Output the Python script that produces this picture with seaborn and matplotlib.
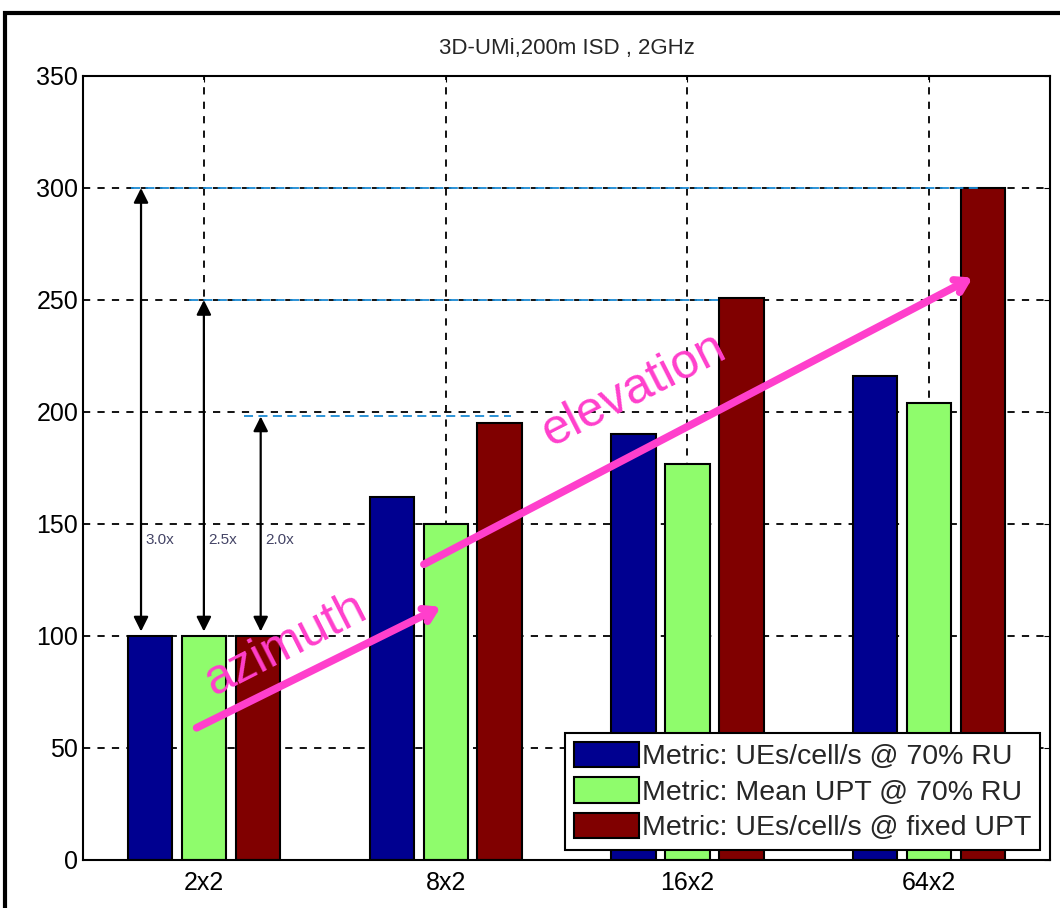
import pandas as pd
import matplotlib.pyplot as plt
import seaborn as sns
from matplotlib.patches import Rectangle

configs = ['2x2', '8x2', '16x2', '64x2']
ues_70ru = [100, 162, 190, 216]
upt_70ru = [100, 150, 177, 204]
ues_fixed = [100, 195, 251, 300]
metrics = ['Metric: UEs/cell/s @ 70% RU',
           'Metric: Mean UPT @ 70% RU',
           'Metric: UEs/cell/s @ fixed UPT']
gain_levels = [300, 250, 198]
gain_labels = ['3.0x', '2.5x', '2.0x']

df = pd.DataFrame({
    'config': configs * 3,
    'value': ues_70ru + upt_70ru + ues_fixed,
    'metric': [m for m in metrics for _ in configs],
})

sns.set_style('white')
plt.rcParams['font.family'] = ['Liberation Sans', 'DejaVu Sans']

fig = plt.figure(figsize=(10.6, 9.08), dpi=100)
ax = fig.add_axes([0.0783, 0.0529, 0.9123, 0.8634])

colors = ['#000090', '#8ffc6c', '#800000']
sns.barplot(data=df, x='config', y='value', hue='metric', palette=colors,
            saturation=1, width=0.67, gap=0.18, edgecolor='black',
            linewidth=1.5, ax=ax, zorder=2)

ax.set_xlim(-0.5, 3.5)
ax.set_ylim(0, 350)
ax.set_yticks(range(0, 351, 50))
ax.set_xlabel('')
ax.set_ylabel('')
ax.set_axisbelow(True)
ax.grid(True, color='black', linestyle=(0, (4, 4)), linewidth=1.3)
for s in ax.spines.values():
    s.set_color('black')
    s.set_linewidth(1.5)
ax.tick_params(axis='both', labelsize=18, direction='in', length=4,
               colors='black', top=True, right=True)
ax.tick_params(axis='x', pad=8)
ax.set_title('3D-UMi,200m ISD , 2GHz', fontsize=16, pad=16)

# blue dashed reference lines and gain arrows
line_spans = [(-0.30, 3.20), (-0.06, 2.13), (0.165, 1.27)]
arrow_x = [-0.26, 0.0, 0.235]
for lvl, lab, (x0, x1), xa in zip(gain_levels, gain_labels, line_spans, arrow_x):
    ax.plot([x0, x1], [lvl, lvl], color='#1a8ad4', linestyle=(0, (5, 3)),
            linewidth=1.3, zorder=3)
    ax.annotate('', xy=(xa, lvl), xytext=(xa, 102),
                arrowprops=dict(arrowstyle='<|-|>', color='black', lw=1.6,
                                mutation_scale=22, shrinkA=0, shrinkB=0),
                zorder=4)
    ax.text(xa + 0.02, 143, lab, fontsize=11, color='#444466',
            ha='left', va='center', zorder=4)

# magenta trend arrows
pink = '#ff3fcc'
ax.annotate('', xy=(0.98, 113), xytext=(-0.03, 59),
            arrowprops=dict(arrowstyle='->,head_length=0.8,head_width=0.5',
                            color=pink, lw=5.5, shrinkA=0, shrinkB=0), zorder=5)
ax.annotate('', xy=(3.18, 260), xytext=(0.91, 132),
            arrowprops=dict(arrowstyle='->,head_length=0.8,head_width=0.5',
                            color=pink, lw=5.5, shrinkA=0, shrinkB=0), zorder=5)
ax.text(0.34, 96, 'azimuth', fontsize=36, color=pink, rotation=27,
        ha='center', va='center', rotation_mode='anchor', zorder=5)
ax.text(1.78, 210, 'elevation', fontsize=36, color=pink, rotation=27,
        ha='center', va='center', rotation_mode='anchor', zorder=5)

leg = ax.legend(loc='lower right', fontsize=20.5, frameon=True, fancybox=False,
                framealpha=1, edgecolor='black', handlelength=2.3,
                handleheight=1.0, borderaxespad=0.35, labelspacing=0.25,
                handletextpad=0.1, borderpad=0.3)
leg.get_frame().set_linewidth(1.5)

fig.patches.append(Rectangle((0.005, -0.02), 1.02, 1.006, transform=fig.transFigure,
                             fill=False, edgecolor='black', linewidth=3))

fig.savefig('out.png', dpi=100)
